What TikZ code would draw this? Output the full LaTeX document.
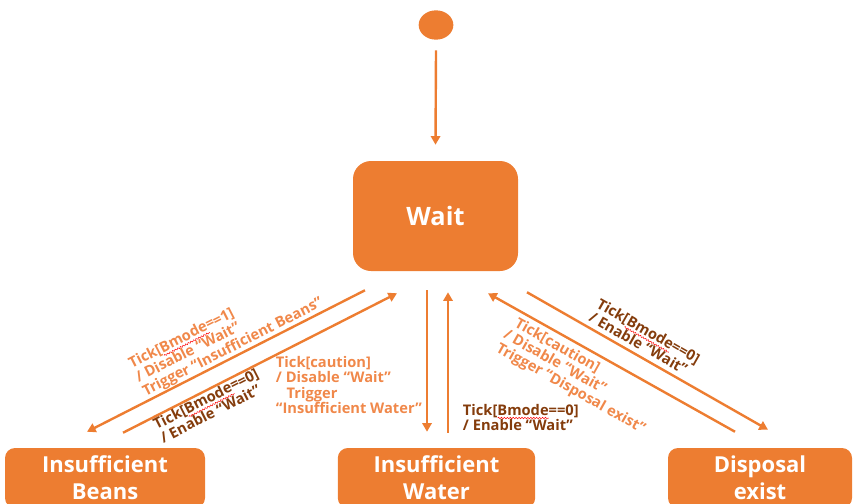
\documentclass[tikz,border=0pt]{standalone}
\usepackage{fontspec}
\setmainfont{Open Sans}
\usepackage{tikz}
\usetikzlibrary{arrows.meta,calc,shapes.geometric,decorations.pathmorphing}
\definecolor{stateorange}{HTML}{ED7D31}
\definecolor{lblorange}{HTML}{F0884A}
\definecolor{lblbrown}{HTML}{843C0C}
\newcommand{\spellwave}[1]{\setbox0\hbox{#1}\rlap{\tikz[baseline=0pt]\draw[-,red,line width=0.35pt,decorate,decoration={snake,amplitude=0.6pt,segment length=2.2pt}] (0pt,-2.2pt) -- (\the\wd0,-2.2pt);}#1}

\begin{document}
\begin{tikzpicture}[x=0.75pt,y=-0.75pt,
    state/.style={fill=stateorange,text=white,rounded corners=7.5pt,inner sep=0pt,align=center,font=\bfseries\fontsize{16.5}{20}\selectfont},
    trans/.style={draw=stateorange,line width=1.8pt,-{Triangle[width=7pt,length=6.5pt]}},
    lbl/.style={font=\bfseries\fontsize{11}{11.5}\selectfont,align=left,inner sep=1pt}]
    \useasboundingbox (0,0) rectangle (856,503);
    \node[ellipse,fill=stateorange,minimum width=26pt,minimum height=22pt,inner sep=0pt] (init) at (436,25) {};
    \node[state,rounded corners=13.5pt,minimum width=123.75pt,minimum height=82.5pt,font=\bfseries\fontsize{19}{22}\selectfont] (wait) at (435.5,216) {Wait};
    \node[state,minimum width=150pt,minimum height=45pt] (beans) at (105,478) {Insufficient\\Beans};
    \node[state,minimum width=148pt,minimum height=45pt] (water) at (436.5,478) {Insufficient\\Water};
    \node[state,minimum width=138pt,minimum height=45pt] (disposal) at (760,478) {Disposal\\exist};
    \draw[trans] ($(init.south)+(0,10.5)$) -- ($(wait.north)+(0,-16)$);
    \draw[trans] ($(wait.south)+(-70.5,19)$) -- node[lbl,text=lblorange,sloped,above,pos=0.46]{Tick[\spellwave{Bmode}==1]\\/ Disable “Wait”\\Trigger “Insufficient Beans”} ($(beans.north)+(-18,-16)$);
    \draw[trans] ($(beans.north)+(18,-15)$) -- node[lbl,text=lblbrown,sloped,below,pos=0.29]{Tick[\spellwave{Bmode}==0]\\/ Enable “Wait”} ($(wait.south)+(-38.5,22)$);
    \draw[trans] ($(wait.south)+(-8.5,19)$) -- node[lbl,text=lblorange,left=2pt,pos=0.67]{Tick[caution]\\/ Disable “Wait”\\\hspace*{8pt}Trigger\\“Insufficient Water”} ($(water.north)+(-9.5,-16)$);
    \draw[trans] ($(water.north)+(11.5,-15)$) -- node[lbl,text=lblbrown,right=10pt,pos=0.11]{Tick[\spellwave{Bmode}==0]\\/ Enable “Wait”} ($(wait.south)+(12.5,21)$);
    \draw[trans] ($(disposal.north)+(-25,-16)$) -- node[lbl,text=lblorange,sloped,below,inner sep=3pt,pos=0.58]{\hspace*{3pt}Tick[caution]\\/ Disable “Wait”\\Trigger “Disposal exist”} ($(wait.south)+(52.5,22)$);
    \draw[trans] ($(wait.south)+(91.5,21)$) -- node[lbl,text=lblbrown,sloped,above=3pt,pos=0.45]{Tick[\spellwave{Bmode}==0]\\/ Enable “Wait”} ($(disposal.north)+(8,-18)$);
\end{tikzpicture}
\end{document}
